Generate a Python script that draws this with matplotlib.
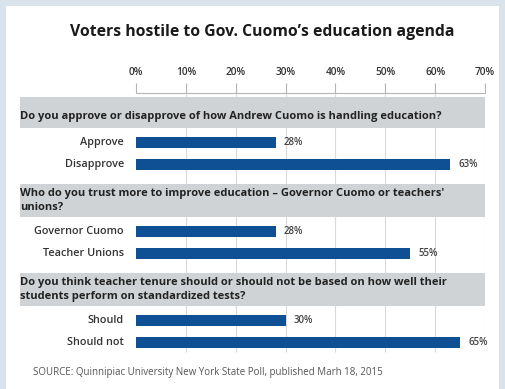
import matplotlib.pyplot as plt
from matplotlib.patches import Rectangle

# Datos de la encuesta
questions = [
    "Do you approve or disapprove of how Andrew Cuomo is handling education?",
    "Who do you trust more to improve education \u2013 Governor Cuomo or teachers'\nunions?",
    "Do you think teacher tenure should or should not be based on how well their\nstudents perform on standardized tests?",
]
answers = [
    ["Approve", "Disapprove"],
    ["Governor Cuomo", "Teacher Unions"],
    ["Should", "Should not"],
]
values = [
    [28, 63],
    [28, 55],
    [30, 65],
]
ticks = [0, 10, 20, 30, 40, 50, 60, 70]

BAR_COLOR = "#0f4f94"
BAND_COLOR = "#d0d3d5"
GRID_COLOR = "#d9d9d9"
BG_COLOR = "#d9e3eb"
FONT = "Open Sans"

W, H = 505, 389
fig = plt.figure(figsize=(W / 100, H / 100), dpi=100, facecolor=BG_COLOR)

# panel blanco
fig.patches.append(Rectangle((6 / W, 0), 493 / W, 1 - 6 / H, transform=fig.transFigure,
                             facecolor="white", edgecolor="none", zorder=-1))

# ejes en pixeles: x de 20 a 485, y de 93 a 355
left_px, right_px, top_px, bot_px = 20, 485, 93, 355
ax = fig.add_axes([left_px / W, 1 - bot_px / H, (right_px - left_px) / W, (bot_px - top_px) / H])
ax.set_zorder(1)
ax.set_facecolor("none")
px_per_pct = (485 - 136) / 70
xmin = -(136 - left_px) / px_per_pct
ax.set_xlim(xmin, 70)
ax.set_ylim(bot_px, top_px)
for s in ax.spines.values():
    s.set_visible(False)

# ticks arriba
ax.xaxis.set_ticks_position("top")
ax.set_xticks(ticks)
ax.set_xticklabels([f"{t}%" for t in ticks], fontsize=7.3, fontweight="semibold",
                   family=FONT, color="#333333")
ax.tick_params(axis="x", direction="out", length=7, width=0.8, color="#b5b5b5", pad=4)
ax.set_yticks([])
ax.hlines(top_px, 0, 70, color="#b5b5b5", lw=0.8, clip_on=False)
ax.vlines(ticks[1:], top_px, 352, color=GRID_COLOR, lw=0.8, zorder=1)

# grupos: banda gris con pregunta y dos barras
y = 97
for q, labels, vals in zip(questions, answers, values):
    nlines = q.count("\n") + 1
    band_h = 31 if nlines == 1 else 33
    ax.add_patch(Rectangle((xmin, y), 70 - xmin, band_h, facecolor=BAND_COLOR,
                           edgecolor="none", zorder=2))
    ax.text(xmin, y + band_h / 2 + (4 if nlines == 1 else 0), q, ha="left", va="center",
            fontsize=8.0, fontweight="bold", family=FONT, color="#222222",
            linespacing=1.3, zorder=3)
    ys = [y + band_h + 14, y + band_h + 36]
    ax.barh(ys, vals, height=11, color=BAR_COLOR, zorder=3)
    for yy, lab, v in zip(ys, labels, vals):
        ax.text(-2.4, yy, lab, ha="right", va="center", fontsize=7.8,
                fontweight="semibold", family=FONT, color="#333333")
        ax.text(v + 1.7, yy, f"{v}%", ha="left", va="center", fontsize=7.0,
                fontweight="semibold", family=FONT, color="#444444")
    y = ys[-1] + 20

fig.text(262 / W, 1 - 32 / H, "Voters hostile to Gov. Cuomo\u2019s education agenda",
         ha="center", va="center", fontsize=11.3, fontweight="bold", family=FONT,
         color="#1a1a1a")
fig.text(33 / W, 1 - 373 / H,
         "SOURCE: Quinnipiac University New York State Poll, published Marh 18, 2015",
         ha="left", va="center", fontsize=7.0, family=FONT, color="#555555")

fig.savefig("out.png", dpi=100, facecolor=BG_COLOR)
